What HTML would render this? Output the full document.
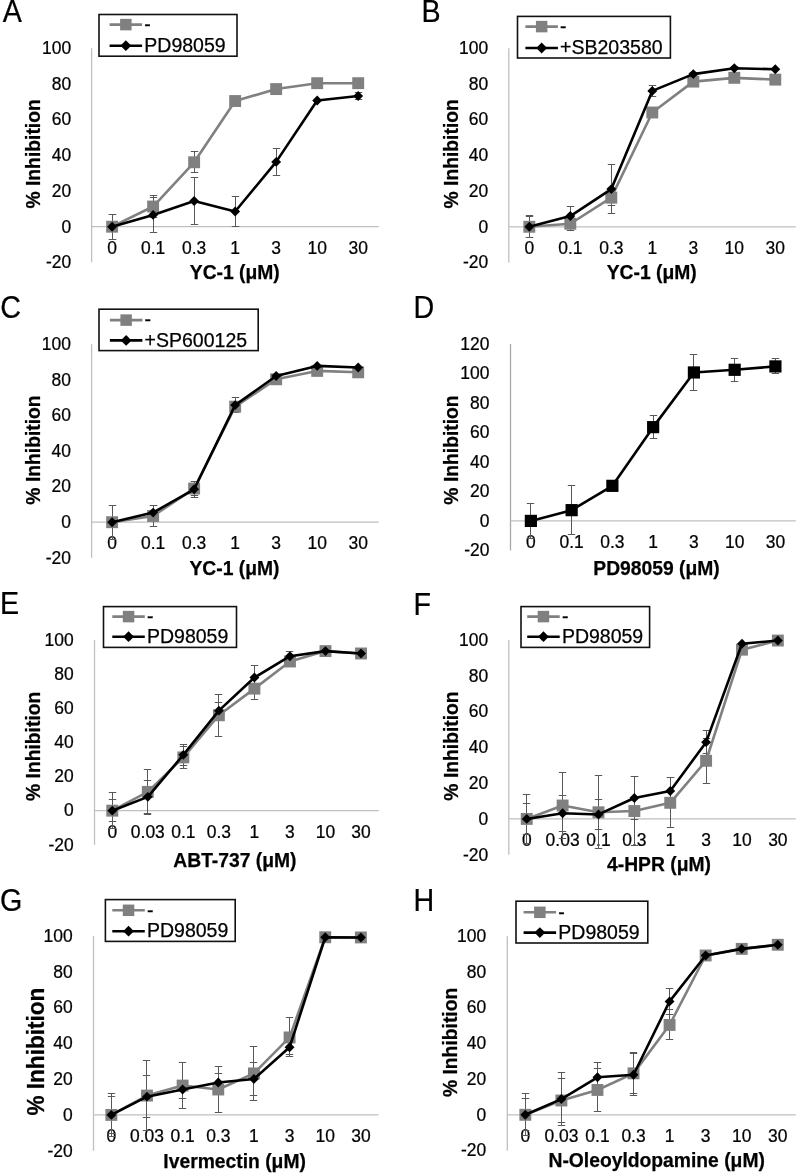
<!DOCTYPE html>
<html><head><meta charset="utf-8"><title>Figure</title>
<style>html,body{margin:0;padding:0;background:#fff;font-family:"Liberation Sans",sans-serif;}svg{display:block;will-change:transform;}text{stroke:#000;stroke-width:0.25px;}</style></head>
<body><svg width="797" height="1173" viewBox="0 0 797 1173" font-family="'Liberation Sans', sans-serif" fill="#000">
<text transform="translate(2.7,21.8) scale(0.94,1.0)" font-size="30.5">A</text>
<line x1="91.6" y1="48.2" x2="91.6" y2="262.4" stroke="#bfbfbf" stroke-width="1.3"/>
<line x1="91.6" y1="226.7" x2="378.7" y2="226.7" stroke="#bfbfbf" stroke-width="1.3"/>
<text transform="translate(71.1,268.2) scale(0.97,1.0)" font-size="18" text-anchor="end">-20</text>
<text transform="translate(71.1,232.5) scale(0.97,1.0)" font-size="18" text-anchor="end">0</text>
<text transform="translate(71.1,196.8) scale(0.97,1.0)" font-size="18" text-anchor="end">20</text>
<text transform="translate(71.1,161.1) scale(0.97,1.0)" font-size="18" text-anchor="end">40</text>
<text transform="translate(71.1,125.4) scale(0.97,1.0)" font-size="18" text-anchor="end">60</text>
<text transform="translate(71.1,89.7) scale(0.97,1.0)" font-size="18" text-anchor="end">80</text>
<text transform="translate(71.1,54) scale(0.97,1.0)" font-size="18" text-anchor="end">100</text>
<text transform="translate(112.11,253.7) scale(0.97,1.0)" font-size="18" text-anchor="middle">0</text>
<text transform="translate(153.12,253.7) scale(0.97,1.0)" font-size="18" text-anchor="middle">0.1</text>
<text transform="translate(194.14,253.7) scale(0.97,1.0)" font-size="18" text-anchor="middle">0.3</text>
<text transform="translate(235.15,253.7) scale(0.97,1.0)" font-size="18" text-anchor="middle">1</text>
<text transform="translate(276.16,253.7) scale(0.97,1.0)" font-size="18" text-anchor="middle">3</text>
<text transform="translate(317.18,253.7) scale(0.97,1.0)" font-size="18" text-anchor="middle">10</text>
<text transform="translate(358.19,253.7) scale(0.97,1.0)" font-size="18" text-anchor="middle">30</text>
<text transform="translate(234.8,279.2)" font-size="19.3" font-weight="bold" text-anchor="middle">YC-1 (μM)</text>
<text transform="translate(40.3,153.9) rotate(-90)" font-size="19.3" font-weight="bold" text-anchor="middle">% Inhibition</text>
<path d="M112.5 214.5V239.5M108.8 214.5H116.2M108.8 239.5H116.2" stroke="#585858" stroke-width="1" fill="none"/>
<path d="M153.5 195.5V217.5M149.8 195.5H157.2M149.8 217.5H157.2" stroke="#585858" stroke-width="1" fill="none"/>
<path d="M194.5 151.5V172.5M190.8 151.5H198.2M190.8 172.5H198.2" stroke="#585858" stroke-width="1" fill="none"/>
<path d="M112.5 214.5V239.5M108.8 214.5H116.2M108.8 239.5H116.2" stroke="#585858" stroke-width="1" fill="none"/>
<path d="M153.5 197.5V232.5M149.8 197.5H157.2M149.8 232.5H157.2" stroke="#585858" stroke-width="1" fill="none"/>
<path d="M194.5 177.5V224.5M190.8 177.5H198.2M190.8 224.5H198.2" stroke="#585858" stroke-width="1" fill="none"/>
<path d="M235.5 196.5V226.5M231.8 196.5H239.2M231.8 226.5H239.2" stroke="#585858" stroke-width="1" fill="none"/>
<path d="M276.5 148.5V175.5M272.8 148.5H280.2M272.8 175.5H280.2" stroke="#585858" stroke-width="1" fill="none"/>
<path d="M358.5 92.5V99.5M354.8 92.5H362.2M354.8 99.5H362.2" stroke="#585858" stroke-width="1" fill="none"/>
<polyline points="112.11,226.7 153.12,206.53 194.14,162.26 235.15,101.04 276.16,89.08 317.18,83.19 358.19,83.19" fill="none" stroke="#808080" stroke-width="2.6" stroke-linejoin="round"/>
<rect x="106.16" y="220.75" width="11.9" height="11.9" fill="#808080"/>
<rect x="147.17" y="200.58" width="11.9" height="11.9" fill="#808080"/>
<rect x="188.19" y="156.31" width="11.9" height="11.9" fill="#808080"/>
<rect x="229.2" y="95.09" width="11.9" height="11.9" fill="#808080"/>
<rect x="270.21" y="83.13" width="11.9" height="11.9" fill="#808080"/>
<rect x="311.23" y="77.24" width="11.9" height="11.9" fill="#808080"/>
<rect x="352.24" y="77.24" width="11.9" height="11.9" fill="#808080"/>
<polyline points="112.11,226.7 153.12,214.92 194.14,201 235.15,211.53 276.16,161.9 317.18,100.5 358.19,96.04" fill="none" stroke="#000" stroke-width="2.6" stroke-linejoin="round"/>
<path d="M112.11 221.75L117.06 226.7L112.11 231.65L107.16 226.7Z" fill="#000"/>
<path d="M153.12 209.97L158.07 214.92L153.12 219.87L148.17 214.92Z" fill="#000"/>
<path d="M194.14 196.05L199.09 201L194.14 205.95L189.19 201Z" fill="#000"/>
<path d="M235.15 206.58L240.1 211.53L235.15 216.48L230.2 211.53Z" fill="#000"/>
<path d="M276.16 156.95L281.11 161.9L276.16 166.85L271.21 161.9Z" fill="#000"/>
<path d="M317.18 95.55L322.13 100.5L317.18 105.45L312.23 100.5Z" fill="#000"/>
<path d="M358.19 91.09L363.14 96.04L358.19 100.99L353.24 96.04Z" fill="#000"/>
<rect x="99" y="14.5" width="138" height="41.7" fill="#fff" stroke="#111" stroke-width="1.6"/>
<line x1="109.6" y1="24.6" x2="142.1" y2="24.6" stroke="#808080" stroke-width="2.6"/>
<rect x="120.1" y="18.85" width="11.5" height="11.5" fill="#808080"/>
<line x1="109.6" y1="45.7" x2="142.1" y2="45.7" stroke="#000" stroke-width="2.6"/>
<path d="M125.85 40.3L131.25 45.7L125.85 51.1L120.45 45.7Z" fill="#000"/>
<text transform="translate(144.3,30.9)" font-size="19.5">-</text>
<text transform="translate(144.3,51.9)" font-size="19.5">PD98059</text>
<text transform="translate(421.5,22) scale(0.94,1.0)" font-size="30.5">B</text>
<line x1="508.8" y1="48.2" x2="508.8" y2="262.5" stroke="#bfbfbf" stroke-width="1.3"/>
<line x1="508.8" y1="226.78" x2="795.8" y2="226.78" stroke="#bfbfbf" stroke-width="1.3"/>
<text transform="translate(488.1,268.3) scale(0.97,1.0)" font-size="18" text-anchor="end">-20</text>
<text transform="translate(488.1,232.58) scale(0.97,1.0)" font-size="18" text-anchor="end">0</text>
<text transform="translate(488.1,196.87) scale(0.97,1.0)" font-size="18" text-anchor="end">20</text>
<text transform="translate(488.1,161.15) scale(0.97,1.0)" font-size="18" text-anchor="end">40</text>
<text transform="translate(488.1,125.43) scale(0.97,1.0)" font-size="18" text-anchor="end">60</text>
<text transform="translate(488.1,89.72) scale(0.97,1.0)" font-size="18" text-anchor="end">80</text>
<text transform="translate(488.1,54) scale(0.97,1.0)" font-size="18" text-anchor="end">100</text>
<text transform="translate(529.3,253.7) scale(0.97,1.0)" font-size="18" text-anchor="middle">0</text>
<text transform="translate(570.3,253.7) scale(0.97,1.0)" font-size="18" text-anchor="middle">0.1</text>
<text transform="translate(611.3,253.7) scale(0.97,1.0)" font-size="18" text-anchor="middle">0.3</text>
<text transform="translate(652.3,253.7) scale(0.97,1.0)" font-size="18" text-anchor="middle">1</text>
<text transform="translate(693.3,253.7) scale(0.97,1.0)" font-size="18" text-anchor="middle">3</text>
<text transform="translate(734.3,253.7) scale(0.97,1.0)" font-size="18" text-anchor="middle">10</text>
<text transform="translate(775.3,253.7) scale(0.97,1.0)" font-size="18" text-anchor="middle">30</text>
<text transform="translate(651.7,278.6)" font-size="19.3" font-weight="bold" text-anchor="middle">YC-1 (μM)</text>
<text transform="translate(457.8,153.8) rotate(-90)" font-size="19.3" font-weight="bold" text-anchor="middle">% Inhibition</text>
<path d="M529.5 216.5V237.5M525.8 216.5H533.2M525.8 237.5H533.2" stroke="#585858" stroke-width="1" fill="none"/>
<path d="M570.5 217.5V230.5M566.8 217.5H574.2M566.8 230.5H574.2" stroke="#585858" stroke-width="1" fill="none"/>
<path d="M611.5 189.5V205.5M607.8 189.5H615.2M607.8 205.5H615.2" stroke="#585858" stroke-width="1" fill="none"/>
<path d="M529.5 215.5V237.5M525.8 215.5H533.2M525.8 237.5H533.2" stroke="#585858" stroke-width="1" fill="none"/>
<path d="M570.5 206.5V225.5M566.8 206.5H574.2M566.8 225.5H574.2" stroke="#585858" stroke-width="1" fill="none"/>
<path d="M611.5 164.5V213.5M607.8 164.5H615.2M607.8 213.5H615.2" stroke="#585858" stroke-width="1" fill="none"/>
<path d="M652.5 85.5V96.5M648.8 85.5H656.2M648.8 96.5H656.2" stroke="#585858" stroke-width="1" fill="none"/>
<path d="M693.5 72.5V75.5M689.8 72.5H697.2M689.8 75.5H697.2" stroke="#585858" stroke-width="1" fill="none"/>
<path d="M734.5 66.5V69.5M730.8 66.5H738.2M730.8 69.5H738.2" stroke="#585858" stroke-width="1" fill="none"/>
<polyline points="529.3,226.78 570.3,223.75 611.3,197.67 652.3,112.49 693.3,81.6 734.3,77.84 775.3,79.63" fill="none" stroke="#808080" stroke-width="2.6" stroke-linejoin="round"/>
<rect x="523.35" y="220.83" width="11.9" height="11.9" fill="#808080"/>
<rect x="564.35" y="217.8" width="11.9" height="11.9" fill="#808080"/>
<rect x="605.35" y="191.72" width="11.9" height="11.9" fill="#808080"/>
<rect x="646.35" y="106.54" width="11.9" height="11.9" fill="#808080"/>
<rect x="687.35" y="75.65" width="11.9" height="11.9" fill="#808080"/>
<rect x="728.35" y="71.89" width="11.9" height="11.9" fill="#808080"/>
<rect x="769.35" y="73.68" width="11.9" height="11.9" fill="#808080"/>
<polyline points="529.3,226.78 570.3,216.07 611.3,189.1 652.3,90.88 693.3,74.09 734.3,68.2 775.3,69.27" fill="none" stroke="#000" stroke-width="2.6" stroke-linejoin="round"/>
<path d="M529.3 221.83L534.25 226.78L529.3 231.73L524.35 226.78Z" fill="#000"/>
<path d="M570.3 211.12L575.25 216.07L570.3 221.02L565.35 216.07Z" fill="#000"/>
<path d="M611.3 184.15L616.25 189.1L611.3 194.05L606.35 189.1Z" fill="#000"/>
<path d="M652.3 85.93L657.25 90.88L652.3 95.83L647.35 90.88Z" fill="#000"/>
<path d="M693.3 69.14L698.25 74.09L693.3 79.04L688.35 74.09Z" fill="#000"/>
<path d="M734.3 63.25L739.25 68.2L734.3 73.15L729.35 68.2Z" fill="#000"/>
<path d="M775.3 64.32L780.25 69.27L775.3 74.22L770.35 69.27Z" fill="#000"/>
<rect x="517.5" y="16.4" width="152.9" height="41.6" fill="#fff" stroke="#111" stroke-width="1.6"/>
<line x1="525.4" y1="26.6" x2="557.9" y2="26.6" stroke="#808080" stroke-width="2.6"/>
<rect x="535.9" y="20.85" width="11.5" height="11.5" fill="#808080"/>
<line x1="525.4" y1="48" x2="557.9" y2="48" stroke="#000" stroke-width="2.6"/>
<path d="M541.65 42.6L547.05 48L541.65 53.4L536.25 48Z" fill="#000"/>
<text transform="translate(560.1,32.9)" font-size="19.5">-</text>
<text transform="translate(560.1,54.2)" font-size="19.5">+SB203580</text>
<text transform="translate(0.3,318) scale(0.94,1.0)" font-size="30.5">C</text>
<line x1="91.6" y1="344.2" x2="91.6" y2="557.8" stroke="#bfbfbf" stroke-width="1.3"/>
<line x1="91.6" y1="522.2" x2="378.7" y2="522.2" stroke="#bfbfbf" stroke-width="1.3"/>
<text transform="translate(70.9,563.6) scale(0.97,1.0)" font-size="18" text-anchor="end">-20</text>
<text transform="translate(70.9,528) scale(0.97,1.0)" font-size="18" text-anchor="end">0</text>
<text transform="translate(70.9,492.4) scale(0.97,1.0)" font-size="18" text-anchor="end">20</text>
<text transform="translate(70.9,456.8) scale(0.97,1.0)" font-size="18" text-anchor="end">40</text>
<text transform="translate(70.9,421.2) scale(0.97,1.0)" font-size="18" text-anchor="end">60</text>
<text transform="translate(70.9,385.6) scale(0.97,1.0)" font-size="18" text-anchor="end">80</text>
<text transform="translate(70.9,350) scale(0.97,1.0)" font-size="18" text-anchor="end">100</text>
<text transform="translate(112.11,548.8) scale(0.97,1.0)" font-size="18" text-anchor="middle">0</text>
<text transform="translate(153.12,548.8) scale(0.97,1.0)" font-size="18" text-anchor="middle">0.1</text>
<text transform="translate(194.14,548.8) scale(0.97,1.0)" font-size="18" text-anchor="middle">0.3</text>
<text transform="translate(235.15,548.8) scale(0.97,1.0)" font-size="18" text-anchor="middle">1</text>
<text transform="translate(276.16,548.8) scale(0.97,1.0)" font-size="18" text-anchor="middle">3</text>
<text transform="translate(317.18,548.8) scale(0.97,1.0)" font-size="18" text-anchor="middle">10</text>
<text transform="translate(358.19,548.8) scale(0.97,1.0)" font-size="18" text-anchor="middle">30</text>
<text transform="translate(234.5,575.3)" font-size="19.3" font-weight="bold" text-anchor="middle">YC-1 (μM)</text>
<text transform="translate(39.9,450) rotate(-90)" font-size="19.3" font-weight="bold" text-anchor="middle">% Inhibition</text>
<path d="M112.5 505.5V539.5M108.8 505.5H116.2M108.8 539.5H116.2" stroke="#585858" stroke-width="1" fill="none"/>
<path d="M153.5 505.5V526.5M149.8 505.5H157.2M149.8 526.5H157.2" stroke="#585858" stroke-width="1" fill="none"/>
<path d="M194.5 481.5V495.5M190.8 481.5H198.2M190.8 495.5H198.2" stroke="#585858" stroke-width="1" fill="none"/>
<path d="M235.5 403.5V410.5M231.8 403.5H239.2M231.8 410.5H239.2" stroke="#585858" stroke-width="1" fill="none"/>
<path d="M153.5 505.5V519.5M149.8 505.5H157.2M149.8 519.5H157.2" stroke="#585858" stroke-width="1" fill="none"/>
<path d="M194.5 481.5V497.5M190.8 481.5H198.2M190.8 497.5H198.2" stroke="#585858" stroke-width="1" fill="none"/>
<path d="M235.5 397.5V412.5M231.8 397.5H239.2M231.8 412.5H239.2" stroke="#585858" stroke-width="1" fill="none"/>
<polyline points="112.11,522.2 153.12,515.97 194.14,488.56 235.15,406.68 276.16,379.27 317.18,370.9 358.19,372.32" fill="none" stroke="#808080" stroke-width="2.6" stroke-linejoin="round"/>
<rect x="106.16" y="516.25" width="11.9" height="11.9" fill="#808080"/>
<rect x="147.17" y="510.02" width="11.9" height="11.9" fill="#808080"/>
<rect x="188.19" y="482.61" width="11.9" height="11.9" fill="#808080"/>
<rect x="229.2" y="400.73" width="11.9" height="11.9" fill="#808080"/>
<rect x="270.21" y="373.32" width="11.9" height="11.9" fill="#808080"/>
<rect x="311.23" y="364.95" width="11.9" height="11.9" fill="#808080"/>
<rect x="352.24" y="366.37" width="11.9" height="11.9" fill="#808080"/>
<polyline points="112.11,522.2 153.12,512.59 194.14,489.27 235.15,405.08 276.16,376.06 317.18,365.92 358.19,367.52" fill="none" stroke="#000" stroke-width="2.6" stroke-linejoin="round"/>
<path d="M112.11 517.25L117.06 522.2L112.11 527.15L107.16 522.2Z" fill="#000"/>
<path d="M153.12 507.64L158.07 512.59L153.12 517.54L148.17 512.59Z" fill="#000"/>
<path d="M194.14 484.32L199.09 489.27L194.14 494.22L189.19 489.27Z" fill="#000"/>
<path d="M235.15 400.13L240.1 405.08L235.15 410.03L230.2 405.08Z" fill="#000"/>
<path d="M276.16 371.11L281.11 376.06L276.16 381.01L271.21 376.06Z" fill="#000"/>
<path d="M317.18 360.97L322.13 365.92L317.18 370.87L312.23 365.92Z" fill="#000"/>
<path d="M358.19 362.57L363.14 367.52L358.19 372.47L353.24 367.52Z" fill="#000"/>
<rect x="99" y="309.2" width="159.2" height="41.4" fill="#fff" stroke="#111" stroke-width="1.6"/>
<line x1="109.9" y1="320.1" x2="142.4" y2="320.1" stroke="#808080" stroke-width="2.6"/>
<rect x="120.4" y="314.35" width="11.5" height="11.5" fill="#808080"/>
<line x1="109.9" y1="340.4" x2="142.4" y2="340.4" stroke="#000" stroke-width="2.6"/>
<path d="M126.15 335L131.55 340.4L126.15 345.8L120.75 340.4Z" fill="#000"/>
<text transform="translate(144.6,326.4)" font-size="19.5">-</text>
<text transform="translate(144.6,346.6)" font-size="19.5">+SP600125</text>
<text transform="translate(413.5,318) scale(0.94,1.0)" font-size="30.5">D</text>
<line x1="510.5" y1="344" x2="510.5" y2="550.4" stroke="#a8a8a8" stroke-width="1.3"/>
<line x1="510.5" y1="520.91" x2="795.8" y2="520.91" stroke="#bfbfbf" stroke-width="1.3"/>
<text transform="translate(489.4,556.2) scale(0.97,1.0)" font-size="18" text-anchor="end">-20</text>
<text transform="translate(489.4,526.71) scale(0.97,1.0)" font-size="18" text-anchor="end">0</text>
<text transform="translate(489.4,497.23) scale(0.97,1.0)" font-size="18" text-anchor="end">20</text>
<text transform="translate(489.4,467.74) scale(0.97,1.0)" font-size="18" text-anchor="end">40</text>
<text transform="translate(489.4,438.26) scale(0.97,1.0)" font-size="18" text-anchor="end">60</text>
<text transform="translate(489.4,408.77) scale(0.97,1.0)" font-size="18" text-anchor="end">80</text>
<text transform="translate(489.4,379.29) scale(0.97,1.0)" font-size="18" text-anchor="end">100</text>
<text transform="translate(489.4,349.8) scale(0.97,1.0)" font-size="18" text-anchor="end">120</text>
<text transform="translate(530.88,547.9) scale(0.97,1.0)" font-size="18" text-anchor="middle">0</text>
<text transform="translate(571.64,547.9) scale(0.97,1.0)" font-size="18" text-anchor="middle">0.1</text>
<text transform="translate(612.39,547.9) scale(0.97,1.0)" font-size="18" text-anchor="middle">0.3</text>
<text transform="translate(653.15,547.9) scale(0.97,1.0)" font-size="18" text-anchor="middle">1</text>
<text transform="translate(693.91,547.9) scale(0.97,1.0)" font-size="18" text-anchor="middle">3</text>
<text transform="translate(734.66,547.9) scale(0.97,1.0)" font-size="18" text-anchor="middle">10</text>
<text transform="translate(775.42,547.9) scale(0.97,1.0)" font-size="18" text-anchor="middle">30</text>
<text transform="translate(656.5,574.8)" font-size="19.3" font-weight="bold" text-anchor="middle">PD98059 (μM)</text>
<text transform="translate(457.8,450) rotate(-90)" font-size="19.3" font-weight="bold" text-anchor="middle">% Inhibition</text>
<path d="M530.5 503.5V538.5M526.8 503.5H534.2M526.8 538.5H534.2" stroke="#585858" stroke-width="1" fill="none"/>
<path d="M571.5 485.5V534.5M567.8 485.5H575.2M567.8 534.5H575.2" stroke="#585858" stroke-width="1" fill="none"/>
<path d="M653.5 415.5V438.5M649.8 415.5H657.2M649.8 438.5H657.2" stroke="#585858" stroke-width="1" fill="none"/>
<path d="M693.5 354.5V390.5M689.8 354.5H697.2M689.8 390.5H697.2" stroke="#585858" stroke-width="1" fill="none"/>
<path d="M734.5 358.5V381.5M730.8 358.5H738.2M730.8 381.5H738.2" stroke="#585858" stroke-width="1" fill="none"/>
<path d="M775.5 358.5V373.5M771.8 358.5H779.2M771.8 373.5H779.2" stroke="#585858" stroke-width="1" fill="none"/>
<polyline points="530.88,520.91 571.64,510.15 612.39,485.83 653.15,427.15 693.91,372.45 734.66,369.8 775.42,366.41" fill="none" stroke="#000" stroke-width="2.6" stroke-linejoin="round"/>
<rect x="524.78" y="514.81" width="12.2" height="12.2" fill="#000"/>
<rect x="565.54" y="504.05" width="12.2" height="12.2" fill="#000"/>
<rect x="606.29" y="479.73" width="12.2" height="12.2" fill="#000"/>
<rect x="647.05" y="421.05" width="12.2" height="12.2" fill="#000"/>
<rect x="687.81" y="366.35" width="12.2" height="12.2" fill="#000"/>
<rect x="728.56" y="363.7" width="12.2" height="12.2" fill="#000"/>
<rect x="769.32" y="360.31" width="12.2" height="12.2" fill="#000"/>
<text transform="translate(-0.1,614.3) scale(0.94,1.0)" font-size="30.5">E</text>
<line x1="94.5" y1="640" x2="94.5" y2="844.8" stroke="#bfbfbf" stroke-width="1.3"/>
<line x1="94.5" y1="810.67" x2="378.8" y2="810.67" stroke="#bfbfbf" stroke-width="1.3"/>
<text transform="translate(73.6,850.6) scale(0.97,1.0)" font-size="18" text-anchor="end">-20</text>
<text transform="translate(73.6,816.47) scale(0.97,1.0)" font-size="18" text-anchor="end">0</text>
<text transform="translate(73.6,782.33) scale(0.97,1.0)" font-size="18" text-anchor="end">20</text>
<text transform="translate(73.6,748.2) scale(0.97,1.0)" font-size="18" text-anchor="end">40</text>
<text transform="translate(73.6,714.07) scale(0.97,1.0)" font-size="18" text-anchor="end">60</text>
<text transform="translate(73.6,679.93) scale(0.97,1.0)" font-size="18" text-anchor="end">80</text>
<text transform="translate(73.6,645.8) scale(0.97,1.0)" font-size="18" text-anchor="end">100</text>
<text transform="translate(112.27,837.9) scale(0.97,1.0)" font-size="18" text-anchor="middle">0</text>
<text transform="translate(147.81,837.9) scale(0.97,1.0)" font-size="18" text-anchor="middle">0.03</text>
<text transform="translate(183.34,837.9) scale(0.97,1.0)" font-size="18" text-anchor="middle">0.1</text>
<text transform="translate(218.88,837.9) scale(0.97,1.0)" font-size="18" text-anchor="middle">0.3</text>
<text transform="translate(254.42,837.9) scale(0.97,1.0)" font-size="18" text-anchor="middle">1</text>
<text transform="translate(289.96,837.9) scale(0.97,1.0)" font-size="18" text-anchor="middle">3</text>
<text transform="translate(325.49,837.9) scale(0.97,1.0)" font-size="18" text-anchor="middle">10</text>
<text transform="translate(361.03,837.9) scale(0.97,1.0)" font-size="18" text-anchor="middle">30</text>
<text transform="translate(234.9,867.1)" font-size="19.3" font-weight="bold" text-anchor="middle">ABT-737 (μM)</text>
<text transform="translate(39.8,746.3) rotate(-90)" font-size="19.3" font-weight="bold" text-anchor="middle">% Inhibition</text>
<path d="M112.5 799.5V821.5M108.8 799.5H116.2M108.8 821.5H116.2" stroke="#585858" stroke-width="1" fill="none"/>
<path d="M147.5 769.5V814.5M143.8 769.5H151.2M143.8 814.5H151.2" stroke="#585858" stroke-width="1" fill="none"/>
<path d="M183.5 746.5V768.5M179.8 746.5H187.2M179.8 768.5H187.2" stroke="#585858" stroke-width="1" fill="none"/>
<path d="M218.5 694.5V736.5M214.8 694.5H222.2M214.8 736.5H222.2" stroke="#585858" stroke-width="1" fill="none"/>
<path d="M254.5 677.5V699.5M250.8 677.5H258.2M250.8 699.5H258.2" stroke="#585858" stroke-width="1" fill="none"/>
<path d="M289.5 659.5V663.5M285.8 659.5H293.2M285.8 663.5H293.2" stroke="#585858" stroke-width="1" fill="none"/>
<path d="M112.5 792.5V828.5M108.8 792.5H116.2M108.8 828.5H116.2" stroke="#585858" stroke-width="1" fill="none"/>
<path d="M147.5 780.5V813.5M143.8 780.5H151.2M143.8 813.5H151.2" stroke="#585858" stroke-width="1" fill="none"/>
<path d="M183.5 744.5V765.5M179.8 744.5H187.2M179.8 765.5H187.2" stroke="#585858" stroke-width="1" fill="none"/>
<path d="M218.5 702.5V718.5M214.8 702.5H222.2M214.8 718.5H222.2" stroke="#585858" stroke-width="1" fill="none"/>
<path d="M254.5 665.5V689.5M250.8 665.5H258.2M250.8 689.5H258.2" stroke="#585858" stroke-width="1" fill="none"/>
<path d="M289.5 651.5V661.5M285.8 651.5H293.2M285.8 661.5H293.2" stroke="#585858" stroke-width="1" fill="none"/>
<polyline points="112.27,810.67 147.81,791.89 183.34,757.42 218.88,715.26 254.42,688.64 289.96,661.5 325.49,651.09 361.03,653.48" fill="none" stroke="#808080" stroke-width="2.6" stroke-linejoin="round"/>
<rect x="106.32" y="804.72" width="11.9" height="11.9" fill="#808080"/>
<rect x="141.86" y="785.94" width="11.9" height="11.9" fill="#808080"/>
<rect x="177.39" y="751.47" width="11.9" height="11.9" fill="#808080"/>
<rect x="212.93" y="709.31" width="11.9" height="11.9" fill="#808080"/>
<rect x="248.47" y="682.69" width="11.9" height="11.9" fill="#808080"/>
<rect x="284.01" y="655.55" width="11.9" height="11.9" fill="#808080"/>
<rect x="319.54" y="645.14" width="11.9" height="11.9" fill="#808080"/>
<rect x="355.08" y="647.53" width="11.9" height="11.9" fill="#808080"/>
<polyline points="112.27,810.67 147.81,796.84 183.34,754.86 218.88,710.66 254.42,677.55 289.96,656.21 325.49,651.09 361.03,653.48" fill="none" stroke="#000" stroke-width="2.6" stroke-linejoin="round"/>
<path d="M112.27 805.72L117.22 810.67L112.27 815.62L107.32 810.67Z" fill="#000"/>
<path d="M147.81 791.89L152.76 796.84L147.81 801.79L142.86 796.84Z" fill="#000"/>
<path d="M183.34 749.91L188.29 754.86L183.34 759.81L178.39 754.86Z" fill="#000"/>
<path d="M218.88 705.71L223.83 710.66L218.88 715.61L213.93 710.66Z" fill="#000"/>
<path d="M254.42 672.6L259.37 677.55L254.42 682.5L249.47 677.55Z" fill="#000"/>
<path d="M289.96 651.26L294.91 656.21L289.96 661.16L285.01 656.21Z" fill="#000"/>
<path d="M325.49 646.14L330.44 651.09L325.49 656.04L320.54 651.09Z" fill="#000"/>
<path d="M361.03 648.53L365.98 653.48L361.03 658.43L356.08 653.48Z" fill="#000"/>
<rect x="103.5" y="606.6" width="133" height="40.8" fill="#fff" stroke="#111" stroke-width="1.6"/>
<line x1="112.3" y1="616.6" x2="144.8" y2="616.6" stroke="#808080" stroke-width="2.6"/>
<rect x="122.8" y="610.85" width="11.5" height="11.5" fill="#808080"/>
<line x1="112.3" y1="636.7" x2="144.8" y2="636.7" stroke="#000" stroke-width="2.6"/>
<path d="M128.55 631.3L133.95 636.7L128.55 642.1L123.15 636.7Z" fill="#000"/>
<text transform="translate(147,622.9)" font-size="19.5">-</text>
<text transform="translate(147,642.9)" font-size="19.5">PD98059</text>
<text transform="translate(413.5,614.5) scale(0.94,1.0)" font-size="30.5">F</text>
<line x1="508.8" y1="640" x2="508.8" y2="854.7" stroke="#bfbfbf" stroke-width="1.3"/>
<line x1="508.8" y1="818.92" x2="795.8" y2="818.92" stroke="#bfbfbf" stroke-width="1.3"/>
<text transform="translate(488.1,860.5) scale(0.97,1.0)" font-size="18" text-anchor="end">-20</text>
<text transform="translate(488.1,824.72) scale(0.97,1.0)" font-size="18" text-anchor="end">0</text>
<text transform="translate(488.1,788.93) scale(0.97,1.0)" font-size="18" text-anchor="end">20</text>
<text transform="translate(488.1,753.15) scale(0.97,1.0)" font-size="18" text-anchor="end">40</text>
<text transform="translate(488.1,717.37) scale(0.97,1.0)" font-size="18" text-anchor="end">60</text>
<text transform="translate(488.1,681.58) scale(0.97,1.0)" font-size="18" text-anchor="end">80</text>
<text transform="translate(488.1,645.8) scale(0.97,1.0)" font-size="18" text-anchor="end">100</text>
<text transform="translate(526.74,845.9) scale(0.97,1.0)" font-size="18" text-anchor="middle">0</text>
<text transform="translate(562.61,845.9) scale(0.97,1.0)" font-size="18" text-anchor="middle">0.03</text>
<text transform="translate(598.49,845.9) scale(0.97,1.0)" font-size="18" text-anchor="middle">0.1</text>
<text transform="translate(634.36,845.9) scale(0.97,1.0)" font-size="18" text-anchor="middle">0.3</text>
<text transform="translate(670.24,845.9) scale(0.97,1.0)" font-size="18" text-anchor="middle">1</text>
<text transform="translate(706.11,845.9) scale(0.97,1.0)" font-size="18" text-anchor="middle">3</text>
<text transform="translate(741.99,845.9) scale(0.97,1.0)" font-size="18" text-anchor="middle">10</text>
<text transform="translate(777.86,845.9) scale(0.97,1.0)" font-size="18" text-anchor="middle">30</text>
<text transform="translate(659,871.3)" font-size="19.3" font-weight="bold" text-anchor="middle">4-HPR (μM)</text>
<text transform="translate(457.8,746) rotate(-90)" font-size="19.3" font-weight="bold" text-anchor="middle">% Inhibition</text>
<path d="M526.5 794.5V843.5M522.8 794.5H530.2M522.8 843.5H530.2" stroke="#585858" stroke-width="1" fill="none"/>
<path d="M562.5 772.5V838.5M558.8 772.5H566.2M558.8 838.5H566.2" stroke="#585858" stroke-width="1" fill="none"/>
<path d="M598.5 775.5V848.5M594.8 775.5H602.2M594.8 848.5H602.2" stroke="#585858" stroke-width="1" fill="none"/>
<path d="M634.5 776.5V845.5M630.8 776.5H638.2M630.8 845.5H638.2" stroke="#585858" stroke-width="1" fill="none"/>
<path d="M670.5 777.5V827.5M666.8 777.5H674.2M666.8 827.5H674.2" stroke="#585858" stroke-width="1" fill="none"/>
<path d="M706.5 738.5V783.5M702.8 738.5H710.2M702.8 783.5H710.2" stroke="#585858" stroke-width="1" fill="none"/>
<path d="M526.5 803.5V834.5M522.8 803.5H530.2M522.8 834.5H530.2" stroke="#585858" stroke-width="1" fill="none"/>
<path d="M562.5 795.5V831.5M558.8 795.5H566.2M558.8 831.5H566.2" stroke="#585858" stroke-width="1" fill="none"/>
<path d="M598.5 799.5V829.5M594.8 799.5H602.2M594.8 829.5H602.2" stroke="#585858" stroke-width="1" fill="none"/>
<path d="M634.5 776.5V819.5M630.8 776.5H638.2M630.8 819.5H638.2" stroke="#585858" stroke-width="1" fill="none"/>
<path d="M670.5 777.5V804.5M666.8 777.5H674.2M666.8 804.5H674.2" stroke="#585858" stroke-width="1" fill="none"/>
<path d="M706.5 730.5V753.5M702.8 730.5H710.2M702.8 753.5H710.2" stroke="#585858" stroke-width="1" fill="none"/>
<polyline points="526.74,818.92 562.61,805.5 598.49,812.3 634.36,811.04 670.24,802.81 706.11,760.77 741.99,649.66 777.86,640.54" fill="none" stroke="#808080" stroke-width="2.6" stroke-linejoin="round"/>
<rect x="520.79" y="812.97" width="11.9" height="11.9" fill="#808080"/>
<rect x="556.66" y="799.55" width="11.9" height="11.9" fill="#808080"/>
<rect x="592.54" y="806.35" width="11.9" height="11.9" fill="#808080"/>
<rect x="628.41" y="805.09" width="11.9" height="11.9" fill="#808080"/>
<rect x="664.29" y="796.86" width="11.9" height="11.9" fill="#808080"/>
<rect x="700.16" y="754.82" width="11.9" height="11.9" fill="#808080"/>
<rect x="736.04" y="643.71" width="11.9" height="11.9" fill="#808080"/>
<rect x="771.91" y="634.59" width="11.9" height="11.9" fill="#808080"/>
<polyline points="526.74,818.92 562.61,813.19 598.49,814.44 634.36,797.98 670.24,791.01 706.11,742.16 741.99,643.76 777.86,640.54" fill="none" stroke="#000" stroke-width="2.6" stroke-linejoin="round"/>
<path d="M526.74 813.97L531.69 818.92L526.74 823.87L521.79 818.92Z" fill="#000"/>
<path d="M562.61 808.24L567.56 813.19L562.61 818.14L557.66 813.19Z" fill="#000"/>
<path d="M598.49 809.49L603.44 814.44L598.49 819.39L593.54 814.44Z" fill="#000"/>
<path d="M634.36 793.03L639.31 797.98L634.36 802.93L629.41 797.98Z" fill="#000"/>
<path d="M670.24 786.06L675.19 791.01L670.24 795.96L665.29 791.01Z" fill="#000"/>
<path d="M706.11 737.21L711.06 742.16L706.11 747.11L701.16 742.16Z" fill="#000"/>
<path d="M741.99 638.81L746.94 643.76L741.99 648.71L737.04 643.76Z" fill="#000"/>
<path d="M777.86 635.59L782.81 640.54L777.86 645.49L772.91 640.54Z" fill="#000"/>
<rect x="521" y="606.6" width="128.6" height="40.8" fill="#fff" stroke="#111" stroke-width="1.6"/>
<line x1="527.2" y1="616.6" x2="559.7" y2="616.6" stroke="#808080" stroke-width="2.6"/>
<rect x="537.7" y="610.85" width="11.5" height="11.5" fill="#808080"/>
<line x1="527.2" y1="636.7" x2="559.7" y2="636.7" stroke="#000" stroke-width="2.6"/>
<path d="M543.45 631.3L548.85 636.7L543.45 642.1L538.05 636.7Z" fill="#000"/>
<text transform="translate(561.9,622.9)" font-size="19.5">-</text>
<text transform="translate(561.9,642.9)" font-size="19.5">PD98059</text>
<text transform="translate(0.1,910.6) scale(0.94,1.0)" font-size="30.5">G</text>
<line x1="93.5" y1="936" x2="93.5" y2="1150.7" stroke="#bfbfbf" stroke-width="1.3"/>
<line x1="93.5" y1="1114.92" x2="378.7" y2="1114.92" stroke="#bfbfbf" stroke-width="1.3"/>
<text transform="translate(72.6,1156.5) scale(0.97,1.0)" font-size="18" text-anchor="end">-20</text>
<text transform="translate(72.6,1120.72) scale(0.97,1.0)" font-size="18" text-anchor="end">0</text>
<text transform="translate(72.6,1084.93) scale(0.97,1.0)" font-size="18" text-anchor="end">20</text>
<text transform="translate(72.6,1049.15) scale(0.97,1.0)" font-size="18" text-anchor="end">40</text>
<text transform="translate(72.6,1013.37) scale(0.97,1.0)" font-size="18" text-anchor="end">60</text>
<text transform="translate(72.6,977.58) scale(0.97,1.0)" font-size="18" text-anchor="end">80</text>
<text transform="translate(72.6,941.8) scale(0.97,1.0)" font-size="18" text-anchor="end">100</text>
<text transform="translate(111.33,1141.9) scale(0.97,1.0)" font-size="18" text-anchor="middle">0</text>
<text transform="translate(146.97,1141.9) scale(0.97,1.0)" font-size="18" text-anchor="middle">0.03</text>
<text transform="translate(182.62,1141.9) scale(0.97,1.0)" font-size="18" text-anchor="middle">0.1</text>
<text transform="translate(218.27,1141.9) scale(0.97,1.0)" font-size="18" text-anchor="middle">0.3</text>
<text transform="translate(253.92,1141.9) scale(0.97,1.0)" font-size="18" text-anchor="middle">1</text>
<text transform="translate(289.57,1141.9) scale(0.97,1.0)" font-size="18" text-anchor="middle">3</text>
<text transform="translate(325.23,1141.9) scale(0.97,1.0)" font-size="18" text-anchor="middle">10</text>
<text transform="translate(360.88,1141.9) scale(0.97,1.0)" font-size="18" text-anchor="middle">30</text>
<text transform="translate(234.6,1167.5)" font-size="19.3" font-weight="bold" text-anchor="middle">Ivermectin (μM)</text>
<text transform="translate(43.55,1051.6) rotate(-90) scale(1.0,1.06)" font-size="22.6" font-weight="bold" text-anchor="middle">% Inhibition</text>
<path d="M111.5 1093.5V1136.5M107.8 1093.5H115.2M107.8 1136.5H115.2" stroke="#585858" stroke-width="1" fill="none"/>
<path d="M146.5 1060.5V1130.5M142.8 1060.5H150.2M142.8 1130.5H150.2" stroke="#585858" stroke-width="1" fill="none"/>
<path d="M182.5 1062.5V1108.5M178.8 1062.5H186.2M178.8 1108.5H186.2" stroke="#585858" stroke-width="1" fill="none"/>
<path d="M218.5 1066.5V1112.5M214.8 1066.5H222.2M214.8 1112.5H222.2" stroke="#585858" stroke-width="1" fill="none"/>
<path d="M253.5 1046.5V1100.5M249.8 1046.5H257.2M249.8 1100.5H257.2" stroke="#585858" stroke-width="1" fill="none"/>
<path d="M289.5 1017.5V1056.5M285.8 1017.5H293.2M285.8 1056.5H293.2" stroke="#585858" stroke-width="1" fill="none"/>
<path d="M111.5 1096.5V1133.5M107.8 1096.5H115.2M107.8 1133.5H115.2" stroke="#585858" stroke-width="1" fill="none"/>
<path d="M146.5 1075.5V1117.5M142.8 1075.5H150.2M142.8 1117.5H150.2" stroke="#585858" stroke-width="1" fill="none"/>
<path d="M182.5 1080.5V1098.5M178.8 1080.5H186.2M178.8 1098.5H186.2" stroke="#585858" stroke-width="1" fill="none"/>
<path d="M218.5 1073.5V1091.5M214.8 1073.5H222.2M214.8 1091.5H222.2" stroke="#585858" stroke-width="1" fill="none"/>
<path d="M253.5 1062.5V1095.5M249.8 1062.5H257.2M249.8 1095.5H257.2" stroke="#585858" stroke-width="1" fill="none"/>
<path d="M289.5 1040.5V1054.5M285.8 1040.5H293.2M285.8 1054.5H293.2" stroke="#585858" stroke-width="1" fill="none"/>
<polyline points="111.33,1114.92 146.97,1095.59 182.62,1085.57 218.27,1089.51 253.92,1073.41 289.57,1037.45 325.23,937.25 360.88,937.43" fill="none" stroke="#808080" stroke-width="2.6" stroke-linejoin="round"/>
<rect x="105.38" y="1108.97" width="11.9" height="11.9" fill="#808080"/>
<rect x="141.03" y="1089.64" width="11.9" height="11.9" fill="#808080"/>
<rect x="176.68" y="1079.62" width="11.9" height="11.9" fill="#808080"/>
<rect x="212.32" y="1083.56" width="11.9" height="11.9" fill="#808080"/>
<rect x="247.97" y="1067.46" width="11.9" height="11.9" fill="#808080"/>
<rect x="283.62" y="1031.5" width="11.9" height="11.9" fill="#808080"/>
<rect x="319.28" y="931.3" width="11.9" height="11.9" fill="#808080"/>
<rect x="354.93" y="931.48" width="11.9" height="11.9" fill="#808080"/>
<polyline points="111.33,1114.92 146.97,1096.67 182.62,1089.51 218.27,1082.53 253.92,1078.95 289.57,1047.29 325.23,937.25 360.88,937.43" fill="none" stroke="#000" stroke-width="2.6" stroke-linejoin="round"/>
<path d="M111.33 1109.97L116.28 1114.92L111.33 1119.87L106.38 1114.92Z" fill="#000"/>
<path d="M146.97 1091.72L151.92 1096.67L146.97 1101.62L142.03 1096.67Z" fill="#000"/>
<path d="M182.62 1084.56L187.57 1089.51L182.62 1094.46L177.68 1089.51Z" fill="#000"/>
<path d="M218.27 1077.58L223.22 1082.53L218.27 1087.48L213.32 1082.53Z" fill="#000"/>
<path d="M253.92 1074L258.88 1078.95L253.92 1083.9L248.97 1078.95Z" fill="#000"/>
<path d="M289.57 1042.34L294.52 1047.29L289.57 1052.24L284.62 1047.29Z" fill="#000"/>
<path d="M325.23 932.3L330.18 937.25L325.23 942.2L320.28 937.25Z" fill="#000"/>
<path d="M360.88 932.48L365.82 937.43L360.88 942.38L355.93 937.43Z" fill="#000"/>
<rect x="105.4" y="899.6" width="129.8" height="41.8" fill="#fff" stroke="#111" stroke-width="1.6"/>
<line x1="112.3" y1="910.3" x2="144.8" y2="910.3" stroke="#808080" stroke-width="2.6"/>
<rect x="122.8" y="904.55" width="11.5" height="11.5" fill="#808080"/>
<line x1="112.3" y1="931.2" x2="144.8" y2="931.2" stroke="#000" stroke-width="2.6"/>
<path d="M128.55 925.8L133.95 931.2L128.55 936.6L123.15 931.2Z" fill="#000"/>
<text transform="translate(147,916.6)" font-size="19.5">-</text>
<text transform="translate(147,937.4)" font-size="19.5">PD98059</text>
<text transform="translate(413.5,911) scale(0.94,1.0)" font-size="30.5">H</text>
<line x1="507.3" y1="936.2" x2="507.3" y2="1150.5" stroke="#bfbfbf" stroke-width="1.3"/>
<line x1="507.3" y1="1114.78" x2="795.8" y2="1114.78" stroke="#bfbfbf" stroke-width="1.3"/>
<text transform="translate(486.1,1156.3) scale(0.97,1.0)" font-size="18" text-anchor="end">-20</text>
<text transform="translate(486.1,1120.58) scale(0.97,1.0)" font-size="18" text-anchor="end">0</text>
<text transform="translate(486.1,1084.87) scale(0.97,1.0)" font-size="18" text-anchor="end">20</text>
<text transform="translate(486.1,1049.15) scale(0.97,1.0)" font-size="18" text-anchor="end">40</text>
<text transform="translate(486.1,1013.43) scale(0.97,1.0)" font-size="18" text-anchor="end">60</text>
<text transform="translate(486.1,977.72) scale(0.97,1.0)" font-size="18" text-anchor="end">80</text>
<text transform="translate(486.1,942) scale(0.97,1.0)" font-size="18" text-anchor="end">100</text>
<text transform="translate(525.33,1141.7) scale(0.97,1.0)" font-size="18" text-anchor="middle">0</text>
<text transform="translate(561.39,1141.7) scale(0.97,1.0)" font-size="18" text-anchor="middle">0.03</text>
<text transform="translate(597.46,1141.7) scale(0.97,1.0)" font-size="18" text-anchor="middle">0.1</text>
<text transform="translate(633.52,1141.7) scale(0.97,1.0)" font-size="18" text-anchor="middle">0.3</text>
<text transform="translate(669.58,1141.7) scale(0.97,1.0)" font-size="18" text-anchor="middle">1</text>
<text transform="translate(705.64,1141.7) scale(0.97,1.0)" font-size="18" text-anchor="middle">3</text>
<text transform="translate(741.71,1141.7) scale(0.97,1.0)" font-size="18" text-anchor="middle">10</text>
<text transform="translate(777.77,1141.7) scale(0.97,1.0)" font-size="18" text-anchor="middle">30</text>
<text transform="translate(656.7,1166.8)" font-size="19.3" font-weight="bold" text-anchor="middle">N-Oleoyldopamine (μM)</text>
<text transform="translate(457.4,1042.4) rotate(-90)" font-size="19.3" font-weight="bold" text-anchor="middle">% Inhibition</text>
<path d="M525.5 1093.5V1135.5M521.8 1093.5H529.2M521.8 1135.5H529.2" stroke="#585858" stroke-width="1" fill="none"/>
<path d="M561.5 1078.5V1122.5M557.8 1078.5H565.2M557.8 1122.5H565.2" stroke="#585858" stroke-width="1" fill="none"/>
<path d="M597.5 1068.5V1111.5M593.8 1068.5H601.2M593.8 1111.5H601.2" stroke="#585858" stroke-width="1" fill="none"/>
<path d="M633.5 1052.5V1093.5M629.8 1052.5H637.2M629.8 1093.5H637.2" stroke="#585858" stroke-width="1" fill="none"/>
<path d="M669.5 1009.5V1039.5M665.8 1009.5H673.2M665.8 1039.5H673.2" stroke="#585858" stroke-width="1" fill="none"/>
<path d="M525.5 1098.5V1130.5M521.8 1098.5H529.2M521.8 1130.5H529.2" stroke="#585858" stroke-width="1" fill="none"/>
<path d="M561.5 1072.5V1125.5M557.8 1072.5H565.2M557.8 1125.5H565.2" stroke="#585858" stroke-width="1" fill="none"/>
<path d="M597.5 1062.5V1092.5M593.8 1062.5H601.2M593.8 1092.5H601.2" stroke="#585858" stroke-width="1" fill="none"/>
<path d="M633.5 1053.5V1095.5M629.8 1053.5H637.2M629.8 1095.5H637.2" stroke="#585858" stroke-width="1" fill="none"/>
<path d="M669.5 988.5V1014.5M665.8 988.5H673.2M665.8 1014.5H673.2" stroke="#585858" stroke-width="1" fill="none"/>
<polyline points="525.33,1114.78 561.39,1100.5 597.46,1089.96 633.52,1073.35 669.58,1024.96 705.64,955.49 741.71,948.88 777.77,944.77" fill="none" stroke="#808080" stroke-width="2.6" stroke-linejoin="round"/>
<rect x="519.38" y="1108.83" width="11.9" height="11.9" fill="#808080"/>
<rect x="555.44" y="1094.55" width="11.9" height="11.9" fill="#808080"/>
<rect x="591.51" y="1084.01" width="11.9" height="11.9" fill="#808080"/>
<rect x="627.57" y="1067.4" width="11.9" height="11.9" fill="#808080"/>
<rect x="663.63" y="1019.01" width="11.9" height="11.9" fill="#808080"/>
<rect x="699.69" y="949.54" width="11.9" height="11.9" fill="#808080"/>
<rect x="735.76" y="942.93" width="11.9" height="11.9" fill="#808080"/>
<rect x="771.82" y="938.82" width="11.9" height="11.9" fill="#808080"/>
<polyline points="525.33,1114.78 561.39,1099.07 597.46,1077.28 633.52,1074.78 669.58,1001.38 705.64,955.49 741.71,948.88 777.77,944.77" fill="none" stroke="#000" stroke-width="2.6" stroke-linejoin="round"/>
<path d="M525.33 1109.83L530.28 1114.78L525.33 1119.73L520.38 1114.78Z" fill="#000"/>
<path d="M561.39 1094.12L566.34 1099.07L561.39 1104.02L556.44 1099.07Z" fill="#000"/>
<path d="M597.46 1072.33L602.41 1077.28L597.46 1082.23L592.51 1077.28Z" fill="#000"/>
<path d="M633.52 1069.83L638.47 1074.78L633.52 1079.73L628.57 1074.78Z" fill="#000"/>
<path d="M669.58 996.43L674.53 1001.38L669.58 1006.33L664.63 1001.38Z" fill="#000"/>
<path d="M705.64 950.54L710.59 955.49L705.64 960.44L700.69 955.49Z" fill="#000"/>
<path d="M741.71 943.93L746.66 948.88L741.71 953.83L736.76 948.88Z" fill="#000"/>
<path d="M777.77 939.82L782.72 944.77L777.77 949.72L772.82 944.77Z" fill="#000"/>
<rect x="516" y="901.2" width="131.8" height="41.8" fill="#fff" stroke="#111" stroke-width="1.6"/>
<line x1="523.6" y1="912.3" x2="556.1" y2="912.3" stroke="#808080" stroke-width="2.6"/>
<rect x="534.1" y="906.55" width="11.5" height="11.5" fill="#808080"/>
<line x1="523.6" y1="932.6" x2="556.1" y2="932.6" stroke="#000" stroke-width="2.6"/>
<path d="M539.85 927.2L545.25 932.6L539.85 938L534.45 932.6Z" fill="#000"/>
<text transform="translate(558.3,918.6)" font-size="19.5">-</text>
<text transform="translate(558.3,938.8)" font-size="19.5">PD98059</text>
</svg></body></html>
